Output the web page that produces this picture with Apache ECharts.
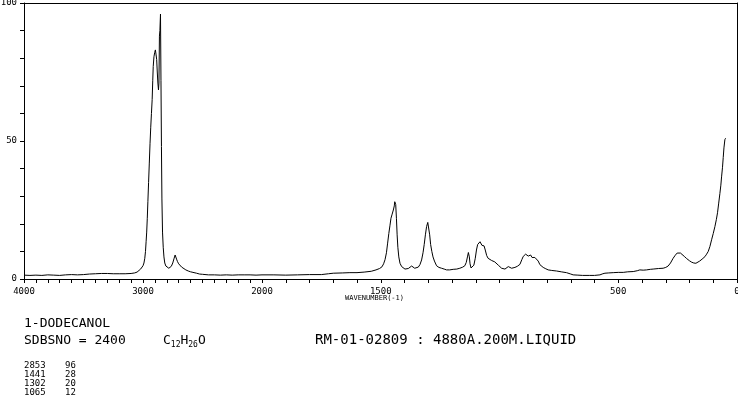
<!DOCTYPE html>
<html style="height: 100%">
<head>
    <meta charset="utf-8">
    <script src="https://cdn.jsdelivr.net/npm/echarts@6/dist/echarts.min.js"></script>
    <title>1-DODECANOL Raman</title>
</head>
<body style="height: 100%; margin: 0; background: #fff">
<div id="container" style="width: 738px; height: 398px"></div>
<script type="text/javascript">

    // spectrum (wavenumber, relative intensity)
    let wavenumbers = [
        4000, 3950, 3900, 3850, 3800, 3750, 3700, 3650, 3600, 3550, 3500, 3450, 3400, 3350, 3300, 3250,
        3200, 3150, 3100, 3070, 3050, 3035, 3020, 3010, 3000, 2992, 2985, 2979, 2974, 2969, 2964, 2959,
        2953, 2947, 2941, 2935, 2929, 2923, 2918, 2914, 2908, 2902, 2896, 2891, 2885, 2880, 2875, 2870,
        2866, 2862, 2858, 2853, 2849, 2845, 2841, 2836, 2830, 2824, 2817, 2808, 2795, 2783, 2772, 2762,
        2750, 2740, 2730, 2725, 2718, 2710, 2700, 2690, 2675, 2660, 2640, 2620, 2600, 2580, 2550, 2525,
        2500, 2450, 2400, 2350, 2300, 2250, 2200, 2150, 2100, 2050, 2000,
        1950, 1900, 1850, 1800, 1750, 1720, 1700, 1660, 1630, 1600, 1570, 1540, 1520, 1505, 1495, 1488,
        1482, 1476, 1471, 1466, 1461, 1457, 1452, 1447, 1443, 1441, 1437, 1434, 1431, 1428, 1424, 1419,
        1412, 1405, 1398, 1391, 1384, 1377, 1370, 1364, 1357, 1350, 1342, 1335, 1328, 1322, 1317, 1312,
        1307, 1302, 1298, 1294, 1290, 1285, 1280, 1274, 1265, 1255, 1244, 1233, 1223, 1210, 1195, 1180,
        1167, 1155, 1146, 1140, 1135, 1131, 1127, 1124, 1120, 1115, 1108, 1102, 1097, 1092, 1087, 1082,
        1078, 1074, 1070, 1065, 1060, 1054, 1048, 1040, 1033, 1027, 1020, 1012, 1005, 998, 991, 984,
        977, 970, 963, 956, 949, 942, 935, 925, 914, 906, 900, 894, 890, 885, 879, 874,
        869, 863, 858, 851, 844, 837, 830, 823, 816, 805, 795, 780, 760, 740, 718, 700,
        690, 670, 650, 620, 600, 577, 565, 556, 540, 521, 500, 479, 460, 437, 420, 409,
        395, 381, 365, 353, 330, 311, 300, 290, 280, 269, 260, 252, 245, 238, 230, 222,
        212, 200, 191, 182, 173, 165, 157, 147, 135, 128, 121, 114, 107, 100, 93, 87,
        82, 77, 72, 68, 65, 61, 58, 55, 51, 48
    ];
    let intensities = [
        1.4, 1.3, 1.4, 1.3, 1.5, 1.4, 1.3, 1.5, 1.6, 1.5, 1.6, 1.8, 1.9, 2.0, 2.0, 1.9,
        1.9, 1.9, 2.0, 2.2, 2.5, 3.0, 3.6, 4.2, 4.8, 5.8, 7.5, 10, 13.5, 17, 22, 28,
        35, 42, 49, 55, 60, 65, 72, 77, 80.5, 82, 83, 81.5, 79.5, 75, 71, 68.5,
        71, 88, 90, 96, 72, 48, 29, 17, 11.5, 8, 5.8, 4.7, 4.2, 3.9, 3.9, 4.6,
        5.8, 7.3, 8.7, 8.5, 7.2, 6.3, 5.5, 5.0, 4.3, 3.8, 3.3, 2.9, 2.6, 2.4, 2.1, 1.8,
        1.7, 1.5, 1.5, 1.4, 1.5, 1.4, 1.5, 1.5, 1.5, 1.4, 1.5,
        1.5, 1.4, 1.5, 1.6, 1.6, 1.9, 2.1, 2.2, 2.3, 2.3, 2.5, 2.8, 3.3, 3.8, 4.4, 5.5,
        7, 9.5, 13, 16.5, 19.5, 22, 23.5, 25, 26.5, 28, 27, 22, 16, 11.5, 8, 5.7,
        4.5, 3.9, 3.6, 3.5, 3.8, 4.2, 4.7, 4.5, 3.9, 3.9, 4.3, 5.2, 6.9, 9.5, 12.5, 16,
        19, 20.5, 20, 16, 12.5, 10, 8, 6.5, 4.8, 4.2, 3.9, 3.6, 3.3, 3.3, 3.5, 3.6,
        3.9, 4.3, 4.8, 6, 8, 9.6, 8, 5.5, 4.0, 4.3, 5.0, 7.5, 10.5, 12.5, 13.2, 13.5,
        13.0, 12.2, 12.4, 12.0, 10.5, 8.5, 7.5, 6.9, 6.7, 6.8, 6.2, 5.8, 5.0, 4.3, 3.9, 3.6,
        3.6, 4.0, 4.5, 4.2, 3.9, 4.0, 4.2, 4.6, 5.3, 7.0, 8.2, 8.8, 9.0, 8.6, 8.3, 8.6,
        8.7, 7.8, 7.3, 7.8, 8.2, 6.5, 5.2, 4.5, 4.2, 3.7, 3.3, 3.1, 2.9, 2.6, 2.3, 1.8,
        1.5, 1.4, 1.3, 1.3, 1.3, 1.5, 1.9, 2.1, 2.2, 2.3, 2.4, 2.4, 2.6, 2.7, 3.0, 3.3,
        3.2, 3.3, 3.5, 3.6, 3.8, 3.9, 4.2, 4.7, 5.8, 7.5, 8.6, 9.4, 9.5, 9.4, 9.0, 8.2,
        7.4, 6.6, 6.1, 5.8, 5.7, 6.0, 6.5, 7.2, 8.1, 9.0, 10.0, 11.8, 14.2, 16.5, 19, 21.5,
        24, 27.5, 31, 34, 37, 40.5, 44, 47.5, 50.5, 51
    ];

    // labelled peaks listed under the chart
    let peakWavenumbers = [2853, 1441, 1302, 1065];
    let peakIntensities = [96, 28, 20, 12];

    // tick labels that are printed (the scale doubles below 2000)
    let highLabels = [4000, 3000];
    let lowLabels = [2000, 1500, 500, 0];
    let yLabels = [0, 50, 100];

    let compound = '1-DODECANOL';
    let sdbsLine = 'SDBSNO = 2400';
    let measureLine = 'RM-01-02809 : 4880A.200M.LIQUID';

    let points = wavenumbers.map((w, i) => [w, intensities[i]]);
    let highData = points.filter(p => p[0] >= 2000);
    let lowData = points.filter(p => p[0] <= 2000);

    const mono = 'DejaVu Sans Mono';
    const black = '#000';

    function bottomAxis(grid, min, max, shown) {
        return {
            type: 'value', gridIndex: grid, position: 'bottom', inverse: true,
            min: min, max: max, interval: 100,
            axisLine: {show: true, onZero: false, lineStyle: {color: black, width: 1}},
            axisTick: {show: true, length: 4, lineStyle: {color: black}},
            axisLabel: {
                show: true, margin: 8, fontFamily: mono, fontSize: 9, color: black,
                showMinLabel: true, showMaxLabel: true, hideOverlap: false,
                formatter: v => shown.indexOf(v) >= 0 ? String(v) : ''
            },
            splitLine: {show: false}
        }
    }

    function topAxis(grid, min, max) {
        return {
            type: 'value', gridIndex: grid, position: 'top', inverse: true,
            min: min, max: max,
            axisLine: {show: true, onZero: false, lineStyle: {color: black, width: 1}},
            axisTick: {show: false}, axisLabel: {show: false}, splitLine: {show: false}
        }
    }

    let peakRows = [];
    peakWavenumbers.forEach((w, i) => {
        peakRows.push({type: 'text', left: 24, top: 361 + i * 9,
            style: {text: String(w), font: '9px ' + mono, fill: black}});
        peakRows.push({type: 'text', left: 65, top: 361 + i * 9,
            style: {text: String(peakIntensities[i]), font: '9px ' + mono, fill: black}});
    });

    let dom = document.getElementById("container");
    let chart = echarts.init(dom);
    chart.setOption({
        animation: false,
        backgroundColor: '#fff',
        grid: [
            {left: 24, top: 3, width: 238, height: 276, containLabel: false, outerBoundsMode: 'none'},
            {left: 262, top: 3, width: 475, height: 276, containLabel: false, outerBoundsMode: 'none'}
        ],
        xAxis: [
            bottomAxis(0, 2000, 4000, highLabels),
            bottomAxis(1, 0, 2000, lowLabels),
            topAxis(0, 2000, 4000),
            topAxis(1, 0, 2000)
        ],
        yAxis: [
            {
                type: 'value', gridIndex: 0, min: 0, max: 100, interval: 10,
                axisLine: {show: true, onZero: false, lineStyle: {color: black, width: 1}},
                axisTick: {show: true, length: 4, lineStyle: {color: black}},
                axisLabel: {
                    margin: 7, fontFamily: mono, fontSize: 9, color: black,
                    formatter: v => yLabels.indexOf(v) >= 0 ? String(v) : ''
                },
                splitLine: {show: false}
            },
            {
                type: 'value', gridIndex: 1, min: 0, max: 100, position: 'right',
                axisLine: {show: true, onZero: false, lineStyle: {color: black, width: 1}},
                axisTick: {show: false}, axisLabel: {show: false}, splitLine: {show: false}
            }
        ],
        series: [
            {
                type: 'line', xAxisIndex: 0, yAxisIndex: 0, data: highData,
                showSymbol: false, lineStyle: {color: black, width: 1}
            },
            {
                type: 'line', xAxisIndex: 1, yAxisIndex: 1, data: lowData,
                showSymbol: false, lineStyle: {color: black, width: 1}
            }
        ],
        graphic: [
            {type: 'text', left: 345, top: 295,
                style: {text: 'WAVENUMBER(-1)', font: '7px ' + mono, fill: black}},
            {type: 'text', left: 24, top: 317,
                style: {text: compound, font: '13px ' + mono, fill: black}},
            {type: 'text', left: 24, top: 334,
                style: {text: sdbsLine, font: '13px ' + mono, fill: black}},
            {type: 'text', left: 163, top: 334,
                style: {
                    text: '{n|C}{s|12}{n|H}{s|26}{n|O}',
                    rich: {
                        n: {fontFamily: mono, fontSize: 13, lineHeight: 18, verticalAlign: 'top', fill: black},
                        s: {fontFamily: mono, fontSize: 8, lineHeight: 18, verticalAlign: 'top', padding: [7, 0, 0, 0], fill: black}
                    }
                }},
            {type: 'text', left: 315, top: 333,
                style: {text: measureLine, font: '14px ' + mono, fill: black}}
        ].concat(peakRows)
    }, true);

</script>
</body>
</html>
